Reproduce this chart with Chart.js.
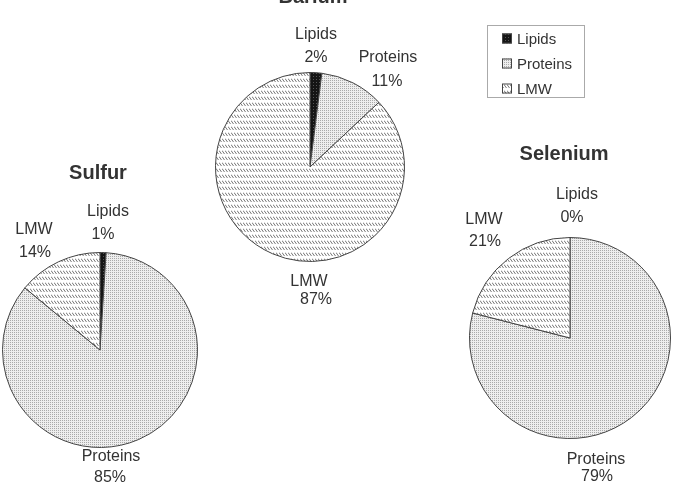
<!DOCTYPE html>
<html>
<head>
<meta charset="utf-8">
<script src="https://cdn.jsdelivr.net/npm/chart.js@4"></script>
<style>
  html, body { margin: 0; padding: 0; background: #fff; }
  #wrap { position: relative; width: 674px; height: 495px; overflow: hidden; }
  #wrap canvas { position: absolute; left: 0; top: 0; }
</style>
</head>
<body>
<div id="wrap">
  <canvas id="barium" width="674" height="495"></canvas>
  <canvas id="sulfur" width="674" height="495"></canvas>
  <canvas id="selenium" width="674" height="495"></canvas>
</div>
<script>
// Data
const categories = ['Lipids', 'Proteins', 'LMW'];
const bariumValues = [2, 11, 87];
const sulfurValues = [1, 85, 14];
const seleniumValues = [0, 79, 21];
const titles = ['Barium', 'Sulfur', 'Selenium'];

// Layout of each pie (center, radius, title and label offsets from the center)
const pieLayouts = [
    { id: 'barium', cx: 310, cy: 167, r: 95, tx: 3, ty: -164,
      labels: [[6, -132, 6, -109], [78, -109, 77, -85], [-1, 115, 6, 133]], legend: true },
    { id: 'sulfur', cx: 100, cy: 350, r: 98, tx: -2, ty: -171,
      labels: [[8, -138, 3, -115], [11, 107, 10, 128], [-66, -120, -65, -97]] },
    { id: 'selenium', cx: 570, cy: 338, r: 101, tx: -6, ty: -178,
      labels: [[7, -143, 2, -120], [26, 122, 27, 139], [-86, -118, -85, -96]] }
];
const allValues = [bariumValues, sulfurValues, seleniumValues];

const textColor = '#333';
const labelFont = '16px "Liberation Sans", Arial, sans-serif';
const titleFont = 'bold 20px "Liberation Sans", Arial, sans-serif';

// Fill patterns
function makePattern(w, h, draw) {
    const c = document.createElement('canvas');
    c.width = w; c.height = h;
    const g = c.getContext('2d');
    draw(g);
    return g.createPattern(c, 'repeat');
}
const lipidsFill = makePattern(3, 3, g => {
    g.fillStyle = '#151515'; g.fillRect(0, 0, 3, 3);
    g.fillStyle = '#555'; g.fillRect(1, 1, 1, 1);
});
const proteinsFill = makePattern(2, 2, g => {
    g.fillStyle = '#eee'; g.fillRect(0, 0, 2, 2);
    g.fillStyle = '#aaa'; g.fillRect(0, 0, 1, 1);
});
const lmwFill = makePattern(3, 6, g => {
    g.fillStyle = '#fff'; g.fillRect(0, 0, 3, 6);
    g.strokeStyle = '#777'; g.lineWidth = 1;
    g.beginPath(); g.moveTo(0, 0.5); g.lineTo(2.5, 4); g.stroke();
});
const fills = [lipidsFill, proteinsFill, lmwFill];

// Draws titles, slice labels and the legend box
const textPlugin = {
    id: 'textPlugin',
    afterDraw(chart, args, opts) {
        const ctx = chart.ctx;
        const lay = opts.layout;
        const vals = opts.values;
        const arc = chart.getDatasetMeta(0).data[0];
        const cx = arc.x, cy = arc.y;
        ctx.save();
        ctx.fillStyle = textColor;
        ctx.textAlign = 'center';
        ctx.textBaseline = 'alphabetic';
        ctx.font = titleFont;
        ctx.fillText(opts.title, cx + lay.tx, cy + lay.ty);

        ctx.font = labelFont;
        ctx.textBaseline = 'middle';
        categories.forEach((cat, i) => {
            const p = lay.labels[i];
            ctx.fillText(cat, cx + p[0], cy + p[1]);
            ctx.fillText(vals[i] + '%', cx + p[2], cy + p[3]);
        });

        if (lay.legend) {
            const bx = 487.5, by = 25.5, bw = 97, bh = 72;
            ctx.strokeStyle = '#aaa';
            ctx.lineWidth = 1;
            ctx.strokeRect(bx, by, bw, bh);
            ctx.textAlign = 'left';
            ctx.font = '15px "Liberation Sans", Arial, sans-serif';
            categories.forEach((cat, i) => {
                const y = by + 13 + i * 25;
                ctx.fillStyle = fills[i];
                ctx.fillRect(502, y - 5, 10, 10);
                ctx.strokeStyle = '#444';
                ctx.strokeRect(502.5, y - 4.5, 9, 9);
                ctx.fillStyle = textColor;
                ctx.fillText(cat, 517, y + 1);
            });
        }
        ctx.restore();
    }
};

pieLayouts.forEach((lay, k) => {
    const ctx = document.getElementById(lay.id).getContext('2d');
    new Chart(ctx, {
        type: 'pie',
        data: {
            labels: categories,
            datasets: [{
                data: allValues[k],
                backgroundColor: fills,
                borderColor: '#444',
                borderWidth: 1
            }]
        },
        options: {
            responsive: false,
            animation: false,
            events: [],
            layout: {
                padding: {
                    left: lay.cx - lay.r,
                    top: lay.cy - lay.r,
                    right: 674 - lay.cx - lay.r,
                    bottom: 495 - lay.cy - lay.r
                }
            },
            plugins: {
                legend: { display: false },
                tooltip: { enabled: false },
                textPlugin: { layout: lay, values: allValues[k], title: titles[k] }
            }
        },
        plugins: [textPlugin]
    });
});
</script>
</body>
</html>
